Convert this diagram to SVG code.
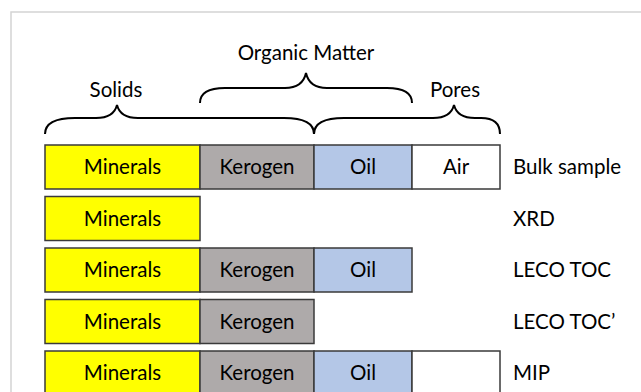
<svg xmlns="http://www.w3.org/2000/svg" width="641" height="392" viewBox="0 0 641 392">
  <style>
    text { font-family: Lato, "Liberation Sans", Arial, sans-serif; font-size: 20.5px; fill: #000; }
    .c { text-anchor: middle; }
    .cell { stroke: #3a3a3a; stroke-width: 1.5; }
    .min { fill: #FFFF00; }
    .ker { fill: #AEAAAA; }
    .oil { fill: #B4C7E7; }
    .air { fill: #FFFFFF; }
    .brace { fill: none; stroke: #000; stroke-width: 2; }
  </style>
  <rect width="641" height="392" fill="#fff"/>
  <path d="M11,392 L11,12 L641,12" fill="none" stroke="#d4d4d4" stroke-width="1.5"/>

  <g id="labels-top">
    <text class="c" x="306" y="60">Organic Matter</text>
    <text class="c" x="116" y="97">Solids</text>
    <text class="c" x="455" y="97">Pores</text>
  </g>

  <g id="braces">
    <path class="brace" d="M200,103 C200,93 208,88 225,88 L285,88 C298,88 304,82 306,73 C308,82 314,88 327,88 L387,88 C404,88 412,93 412,103"/>
    <path class="brace" d="M45,134 C45,123 55,118 75,118 L96,118 C109,118 115,113 117,105 C119,113 125,118 138,118 L284,118 C304,118 314,123 314,134"/>
    <path class="brace" d="M314,134 C314,123 324,118 344,118 L433,118 C446,118 452,113 454,105 C456,113 462,118 475,118 L481,118 C494,118 500,124 500,134"/>
  </g>

  <g id="row-bulk">
    <rect class="cell min" x="45" y="145" width="155" height="44"/>
    <rect class="cell ker" x="200" y="145" width="114" height="44"/>
    <rect class="cell oil" x="314" y="145" width="98" height="44"/>
    <rect class="cell air" x="412" y="145" width="88" height="44"/>
    <text class="c" x="122.5" y="174">Minerals</text>
    <text class="c" x="257" y="174">Kerogen</text>
    <text class="c" x="363" y="174">Oil</text>
    <text class="c" x="456" y="174">Air</text>
    <text x="513" y="174">Bulk sample</text>
  </g>

  <g id="row-xrd">
    <rect class="cell min" x="45" y="196.5" width="155" height="44"/>
    <text class="c" x="122.5" y="225.5">Minerals</text>
    <text x="513" y="225.5">XRD</text>
  </g>

  <g id="row-leco">
    <rect class="cell min" x="45" y="248" width="155" height="44"/>
    <rect class="cell ker" x="200" y="248" width="114" height="44"/>
    <rect class="cell oil" x="314" y="248" width="98" height="44"/>
    <text class="c" x="122.5" y="277">Minerals</text>
    <text class="c" x="257" y="277">Kerogen</text>
    <text class="c" x="363" y="277">Oil</text>
    <text x="513" y="277">LECO TOC</text>
  </g>

  <g id="row-leco2">
    <rect class="cell min" x="45" y="299.5" width="155" height="44"/>
    <rect class="cell ker" x="200" y="299.5" width="114" height="44"/>
    <text class="c" x="122.5" y="328.5">Minerals</text>
    <text class="c" x="257" y="328.5">Kerogen</text>
    <text x="513" y="328.5">LECO TOC’</text>
  </g>

  <g id="row-mip">
    <rect class="cell min" x="45" y="351" width="155" height="44"/>
    <rect class="cell ker" x="200" y="351" width="114" height="44"/>
    <rect class="cell oil" x="314" y="351" width="98" height="44"/>
    <rect class="cell air" x="412" y="351" width="88" height="44"/>
    <text class="c" x="122.5" y="380">Minerals</text>
    <text class="c" x="257" y="380">Kerogen</text>
    <text class="c" x="363" y="380">Oil</text>
    <text x="513" y="380">MIP</text>
  </g>
</svg>
